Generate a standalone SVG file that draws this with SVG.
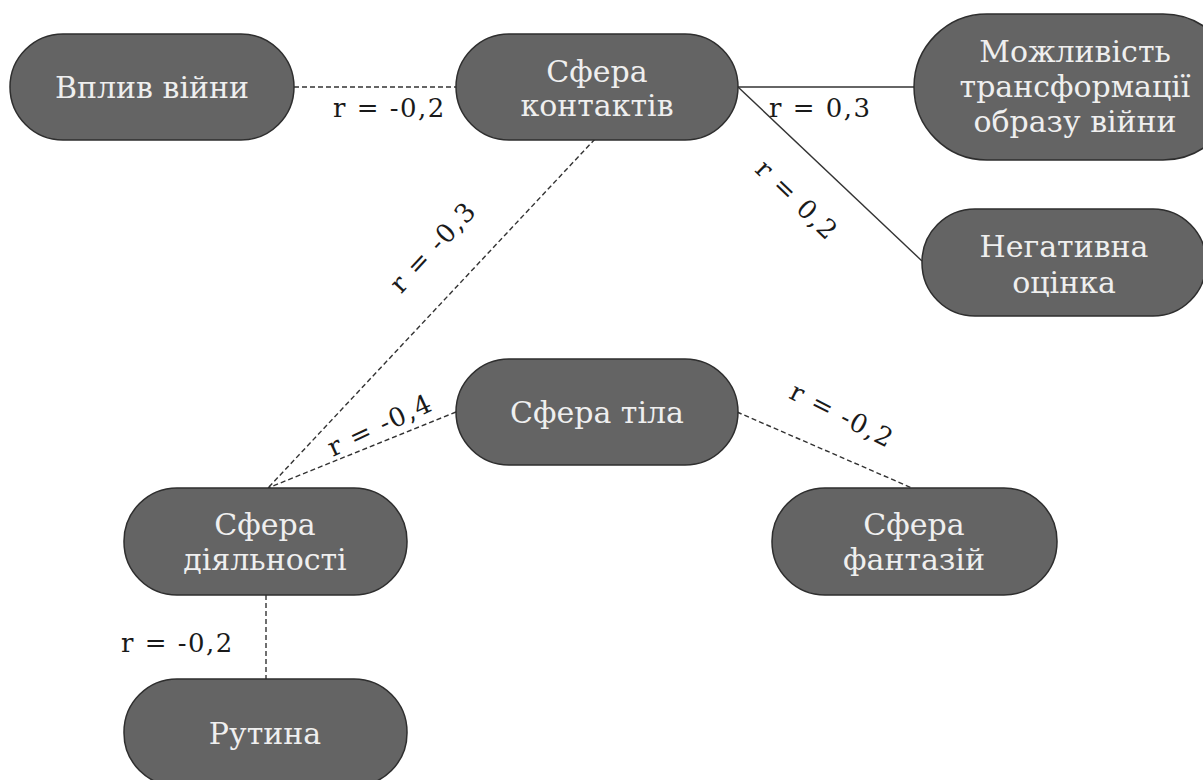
<svg xmlns="http://www.w3.org/2000/svg" width="1203" height="780" viewBox="0 0 1203 780">
<style>
.n{fill:#646464;stroke:#2e2e2e;stroke-width:1.5}
.t{font-family:"DejaVu Serif","Liberation Serif",serif;font-size:30px;fill:#efefef;text-anchor:middle}
.l{font-family:"DejaVu Serif","Liberation Serif",serif;font-size:26px;letter-spacing:1.5px;fill:#1a1a1a}
.lc{font-family:"DejaVu Serif","Liberation Serif",serif;font-size:26px;letter-spacing:1.5px;fill:#1a1a1a;text-anchor:middle}
.s{stroke:#333;stroke-width:1.4;fill:none}
.d{stroke:#333;stroke-width:1.4;fill:none;stroke-dasharray:5 3}
</style>
<rect width="1203" height="780" fill="#fff"/>
<g id="connectors">
<line class="d" x1="294" y1="87" x2="456" y2="87"/>
<line class="s" x1="738" y1="87" x2="914" y2="87"/>
<line class="s" x1="738" y1="87" x2="922" y2="261"/>
<line class="d" x1="595" y1="139" x2="268" y2="488"/>
<line class="d" x1="456" y1="412" x2="268" y2="488"/>
<line class="d" x1="737" y1="412" x2="912" y2="488"/>
<line class="d" x1="266" y1="595" x2="266" y2="679"/>
<text class="l" x="333" y="117">r = -0,2</text>
<text class="l" x="769" y="117">r = 0,3</text>
<text class="l" x="121" y="652">r = -0,2</text>
<text class="lc" transform="translate(797,200) rotate(44)" y="9">r = 0,2</text>
<text class="lc" transform="translate(433,247) rotate(-47)" y="9">r = -0,3</text>
<text class="lc" transform="translate(380,425) rotate(-25)" y="9">r = -0,4</text>
<text class="lc" transform="translate(842,415) rotate(27)" y="9">r = -0,2</text>
</g>
<g id="node-vplyv">
<rect class="n" x="10" y="34" width="284" height="106" rx="53"/>
<text class="t" x="152" y="98">Вплив війни</text>
</g>
<g id="node-kontakty">
<rect class="n" x="456" y="34" width="282" height="106" rx="53"/>
<text class="t" x="597" y="82">Сфера</text>
<text class="t" x="597" y="116">контактів</text>
</g>
<g id="node-mozhlyvist">
<rect class="n" x="914" y="14" width="322" height="146" rx="73"/>
<text class="t" x="1075" y="62">Можливість</text>
<text class="t" x="1075" y="97">трансформації</text>
<text class="t" x="1075" y="132">образу війни</text>
</g>
<g id="node-negatyvna">
<rect class="n" x="922" y="209" width="284" height="107" rx="53"/>
<text class="t" x="1064" y="257">Негативна</text>
<text class="t" x="1064" y="293">оцінка</text>
</g>
<g id="node-tila">
<rect class="n" x="456" y="359" width="282" height="106" rx="53"/>
<text class="t" x="597" y="423">Сфера тіла</text>
</g>
<g id="node-diyalnosti">
<rect class="n" x="124" y="488" width="283" height="107" rx="53"/>
<text class="t" x="265" y="535">Сфера</text>
<text class="t" x="265" y="570">діяльності</text>
</g>
<g id="node-fantaziy">
<rect class="n" x="772" y="488" width="285" height="107" rx="53"/>
<text class="t" x="914" y="535">Сфера</text>
<text class="t" x="914" y="570">фантазій</text>
</g>
<g id="node-rutyna">
<rect class="n" x="124" y="679" width="283" height="107" rx="53"/>
<text class="t" x="265" y="744">Рутина</text>
</g>
</svg>
